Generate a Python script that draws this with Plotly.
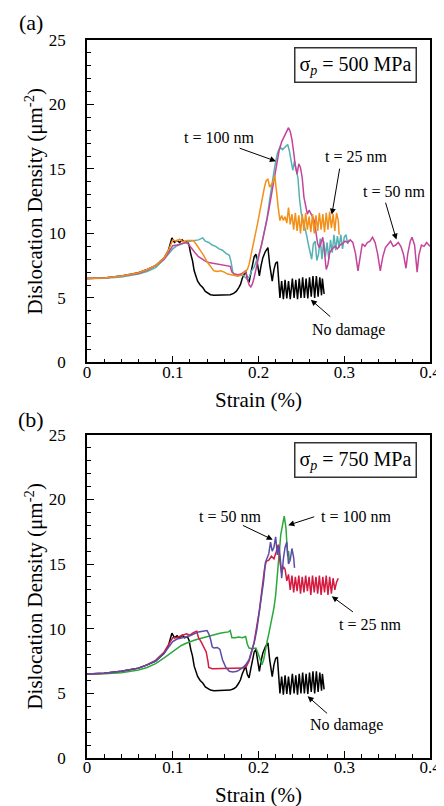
import plotly.graph_objects as go
from plotly.subplots import make_subplots

# ---------------- data ----------------
# No damage (same in both panels)
nd_x = [0, 0.02, 0.04, 0.06, 0.07, 0.08, 0.09, 0.095, 0.099, 0.102, 0.105, 0.108, 0.111, 0.114, 0.117,
        0.119, 0.121, 0.123, 0.125, 0.127, 0.129, 0.132, 0.135, 0.138, 0.140, 0.144, 0.148, 0.155, 0.162,
        0.167, 0.171, 0.174, 0.177, 0.179, 0.181, 0.183, 0.185, 0.187, 0.189, 0.191, 0.193, 0.195, 0.197,
        0.199, 0.201, 0.203, 0.205, 0.208, 0.211, 0.213, 0.216, 0.218, 0.220, 0.222, 0.2235, 0.225,
        0.227, 0.229, 0.231, 0.233, 0.235, 0.237, 0.2395, 0.2415, 0.2435, 0.2455, 0.2475, 0.2495,
        0.2515, 0.2535, 0.2555, 0.2575, 0.2595, 0.2615, 0.2635, 0.2655, 0.2675, 0.2695, 0.2715, 0.2735,
        0.2745, 0.2755, 0.2765]
nd_y = [6.5, 6.55, 6.7, 6.95, 7.2, 7.5, 8.1, 8.7, 9.65, 9.3, 9.45, 9.3, 9.5, 9.3, 9.4,
        9.1, 8.4, 7.9, 7.1, 6.7, 6.3, 6.0, 5.8, 5.5, 5.4, 5.25, 5.2, 5.22, 5.2,
        5.25, 5.35, 5.5, 5.8, 6.05, 6.5, 6.85, 7.1, 6.45, 6.2, 6.9, 7.6, 8.2, 8.4,
        7.4, 6.7, 7.5, 8.1, 8.6, 8.9, 7.6, 6.3, 7.2, 7.7, 7.8, 6.3, 5.0,
        6.3, 4.9, 6.4, 4.95, 6.3, 4.9, 6.5, 5.0, 6.4, 4.9, 6.5, 5.0,
        6.6, 5.0, 6.5, 4.95, 6.6, 5.1, 6.7, 5.0, 6.7, 5.1, 6.6, 5.2,
        6.5, 5.5, 5.3]

# Panel (a), sigma_p = 500 MPa
a25_x = [0, 0.02, 0.04, 0.06, 0.07, 0.08, 0.09, 0.095, 0.1, 0.104, 0.108, 0.112, 0.116, 0.12, 0.124,
         0.127, 0.13, 0.133, 0.136, 0.14, 0.144, 0.148, 0.152, 0.156, 0.16, 0.164, 0.168, 0.172, 0.176,
         0.18, 0.184, 0.187, 0.189, 0.191, 0.193, 0.195, 0.197, 0.199, 0.201, 0.203, 0.205, 0.207, 0.209,
         0.211, 0.213, 0.215, 0.217, 0.219, 0.221, 0.223, 0.225, 0.227, 0.229, 0.231, 0.233, 0.235, 0.237,
         0.239, 0.241, 0.243, 0.245, 0.247, 0.249, 0.251, 0.253, 0.255, 0.257, 0.259, 0.261, 0.263, 0.265,
         0.267, 0.269, 0.271, 0.273, 0.275, 0.277, 0.279, 0.281, 0.283, 0.285, 0.287, 0.289, 0.291, 0.293,
         0.294]
a25_y = [6.5, 6.55, 6.7, 6.95, 7.2, 7.5, 8.1, 8.7, 9.5, 9.4, 9.55, 9.35, 9.45, 9.45, 9.45,
         9.2, 8.9, 8.6, 8.3, 7.8, 7.4, 7.1, 7.05, 7.1, 7.0, 6.85, 6.8, 6.75, 6.7,
         6.75, 7.0, 7.2, 7.6, 8.3, 9.0, 9.5, 10.2, 10.8, 11.5, 12.3, 13.0, 13.6, 14.1,
         14.2, 13.6, 13.8, 14.0, 14.5, 13.0, 12.0, 11.0, 11.4, 11.0, 11.3, 10.8, 12.0, 10.7,
         11.5, 10.3, 11.6, 10.2, 11.4, 10.0, 11.5, 10.2, 11.6, 10.3, 11.3, 10.1, 11.5, 10.0,
         11.4, 10.2, 11.6, 10.3, 11.5, 10.1, 11.6, 10.3, 11.7, 10.4, 11.5, 10.2, 11.6, 11.0,
         9.9]

a50_x = [0, 0.02, 0.04, 0.06, 0.07, 0.08, 0.09, 0.095, 0.1, 0.105, 0.11, 0.115, 0.118, 0.122, 0.126,
         0.13, 0.134, 0.138, 0.142, 0.146, 0.15, 0.155, 0.16, 0.165, 0.167, 0.169, 0.172, 0.176, 0.18,
         0.183, 0.185, 0.187, 0.189, 0.191, 0.193, 0.195, 0.198, 0.2, 0.203, 0.206, 0.209, 0.212, 0.215,
         0.218, 0.221, 0.224, 0.227, 0.23, 0.232, 0.234, 0.235, 0.237, 0.239, 0.241, 0.243, 0.245, 0.247,
         0.249, 0.251, 0.253, 0.255, 0.257, 0.259, 0.261, 0.263, 0.265, 0.267, 0.269, 0.271, 0.273, 0.275,
         0.277, 0.279, 0.281, 0.283, 0.286, 0.289, 0.292, 0.295, 0.298, 0.301, 0.304, 0.307, 0.310, 0.313,
         0.316, 0.318, 0.321, 0.324, 0.327, 0.330, 0.333, 0.336, 0.339, 0.342, 0.345, 0.348, 0.351, 0.354,
         0.357, 0.360, 0.363, 0.366, 0.369, 0.372, 0.374, 0.377, 0.379, 0.382, 0.385, 0.387, 0.390, 0.393,
         0.396, 0.400]
a50_y = [6.5, 6.55, 6.7, 6.9, 7.15, 7.5, 8.0, 8.5, 9.05, 9.1, 9.2, 9.3, 9.2, 8.8, 8.5,
         8.2, 8.0, 7.85, 7.75, 7.7, 7.65, 7.6, 7.55, 7.5, 7.45, 7.0, 6.85, 6.8, 6.85,
         7.0, 7.1, 6.5, 6.0, 5.85, 6.1, 6.6, 7.4, 8.1, 9.0, 9.8, 10.8, 11.8, 13.0,
         14.3, 15.5, 16.4, 17.1, 17.5, 17.7, 18.0, 18.2, 17.9, 17.3, 16.3, 15.2, 14.6, 15.4,
         15.1, 14.3, 12.8, 12.0, 11.5, 11.8, 11.6, 11.3, 11.0, 9.9, 9.2, 8.9, 9.3, 9.7,
         8.5, 7.2, 7.6, 8.5, 8.8, 9.0, 8.8, 9.1, 9.2, 9.4, 9.3, 9.5, 9.3, 8.5,
         7.1, 8.0, 9.2, 9.0, 9.3, 9.4, 9.7, 9.3, 8.4, 7.1, 8.2, 8.9, 9.2, 9.4,
         9.0, 9.1, 9.3, 9.0, 8.4, 7.3, 8.4, 9.4, 9.7, 9.1, 7.0, 8.3, 9.1, 9.0,
         9.3, 9.0]

a100_x = [0, 0.02, 0.04, 0.06, 0.07, 0.08, 0.09, 0.1, 0.105, 0.11, 0.115, 0.12, 0.125, 0.13, 0.135,
          0.138, 0.142, 0.146, 0.15, 0.154, 0.158, 0.162, 0.166, 0.168, 0.170, 0.172, 0.176, 0.18, 0.183,
          0.186, 0.189, 0.192, 0.195, 0.198, 0.201, 0.204, 0.207, 0.210, 0.213, 0.216, 0.219, 0.222, 0.225,
          0.228, 0.231, 0.234, 0.236, 0.238, 0.240, 0.242, 0.244, 0.246, 0.248, 0.250, 0.252, 0.254, 0.256,
          0.258, 0.260, 0.262, 0.264, 0.266, 0.268, 0.270, 0.272, 0.274, 0.276, 0.278, 0.280, 0.282, 0.284,
          0.286, 0.288, 0.290, 0.292, 0.294, 0.296, 0.298, 0.300, 0.302, 0.304, 0.306]
a100_y = [6.5, 6.53, 6.62, 6.85, 7.05, 7.35, 8.0, 8.8, 9.05, 9.2, 9.3, 9.4, 9.45, 9.5, 9.65,
          9.4, 9.3, 9.1, 9.0, 8.8, 8.7, 8.45, 8.3, 7.8, 7.0, 6.75, 6.7, 6.85, 6.7,
          6.5, 6.6, 7.1, 7.4, 7.9, 8.5, 9.2, 10.2, 11.2, 12.6, 14.0, 15.2, 16.2, 16.7,
          16.5, 16.7, 16.9, 16.4, 15.5, 14.9, 15.6, 15.0, 14.3, 12.6, 11.5, 11.0, 10.5, 9.9,
          9.2, 8.6, 8.0, 9.2, 9.4, 7.9, 8.4, 9.6, 8.0, 9.4, 8.2, 9.3, 8.0, 9.5,
          8.5, 9.9, 8.7, 9.8, 8.9, 9.9, 8.8, 9.7, 9.9, 9.2, 9.5]

# Panel (b), sigma_p = 750 MPa
b25_x = [0, 0.02, 0.04, 0.06, 0.07, 0.08, 0.09, 0.095, 0.1, 0.104, 0.108, 0.112, 0.116, 0.12, 0.124,
         0.128, 0.13, 0.133, 0.136, 0.139, 0.141, 0.142, 0.146, 0.152, 0.158, 0.164, 0.17, 0.176, 0.182,
         0.186, 0.189, 0.192, 0.195, 0.198, 0.201, 0.204, 0.207, 0.209, 0.212, 0.215, 0.218, 0.221, 0.223,
         0.225, 0.227, 0.229, 0.231, 0.233, 0.235, 0.237, 0.239, 0.241, 0.243, 0.245, 0.247, 0.249, 0.251,
         0.253, 0.255, 0.257, 0.259, 0.261, 0.263, 0.265, 0.267, 0.269, 0.271, 0.273, 0.275, 0.277, 0.279,
         0.281, 0.283, 0.285, 0.287, 0.289, 0.291, 0.293]
b25_y = [6.5, 6.55, 6.7, 6.95, 7.2, 7.55, 8.2, 8.8, 9.3, 9.3, 9.4, 9.5, 9.6, 9.5, 9.7,
         9.8, 9.3, 9.0, 8.6, 8.2, 7.5, 7.0, 6.9, 6.9, 6.95, 6.9, 6.95, 6.9, 6.95,
         7.1, 7.5, 8.2, 9.0, 10.2, 11.4, 13.0, 14.6, 15.2, 15.3, 15.6, 15.4, 16.0, 16.5,
         15.2, 14.3, 14.8, 14.6, 13.7, 14.2, 13.0, 14.1, 12.8, 14.0, 12.9, 14.1, 12.7, 14.0,
         12.8, 14.1, 12.9, 14.0, 12.6, 14.1, 12.8, 14.0, 12.7, 14.1, 12.6, 14.0, 12.8, 14.1,
         12.6, 14.0, 12.7, 13.9, 13.0, 13.6, 13.9]

b50_x = [0, 0.02, 0.04, 0.06, 0.07, 0.08, 0.09, 0.095, 0.1, 0.105, 0.11, 0.115, 0.12, 0.125, 0.13,
         0.135, 0.14, 0.142, 0.144, 0.146, 0.148, 0.152, 0.155, 0.158, 0.162, 0.166, 0.17, 0.175, 0.18,
         0.185, 0.189, 0.192, 0.195, 0.198, 0.201, 0.204, 0.206, 0.208, 0.210, 0.212, 0.214, 0.216, 0.218,
         0.220, 0.222, 0.224, 0.226, 0.227, 0.229, 0.231, 0.233, 0.235, 0.237, 0.239, 0.241, 0.242]
b50_y = [6.5, 6.55, 6.7, 6.95, 7.2, 7.5, 8.1, 8.6, 9.0, 9.2, 9.25, 9.35, 9.45, 9.6, 9.75,
         9.8, 9.85, 9.6, 9.2, 8.6, 8.5, 8.55, 8.4, 7.6, 7.0, 6.7, 6.65, 6.7, 6.9,
         7.2, 7.6, 8.3, 8.9, 9.9, 11.2, 12.8, 13.7, 15.1, 15.5, 15.8, 16.7, 16.0, 16.3,
         17.1, 15.7, 16.4, 15.0, 13.9, 15.4, 16.3, 16.7, 15.0, 15.3, 16.2, 15.5, 14.7]

b100_x = [0, 0.02, 0.04, 0.06, 0.07, 0.08, 0.09, 0.1, 0.105, 0.11, 0.115, 0.12, 0.125, 0.13, 0.135,
          0.14, 0.145, 0.15, 0.155, 0.16, 0.165, 0.167, 0.169, 0.173, 0.177, 0.181, 0.185, 0.187, 0.189,
          0.193, 0.197, 0.2, 0.202, 0.204, 0.206, 0.208, 0.21, 0.212, 0.214, 0.216, 0.218, 0.22, 0.222,
          0.224, 0.226, 0.228, 0.230, 0.232, 0.233, 0.234, 0.235, 0.236]
b100_y = [6.5, 6.52, 6.6, 6.8, 7.0, 7.3, 7.75, 8.25, 8.5, 8.7, 8.85, 9.0, 9.1, 9.2, 9.3,
          9.4, 9.5, 9.6, 9.65, 9.7, 9.75, 9.85, 9.3, 9.3, 9.35, 9.3, 9.4, 8.8, 8.5,
          8.45, 8.5, 8.0, 7.5, 7.2, 7.6, 8.4, 9.0, 9.6, 10.2, 10.8, 11.6, 12.6, 14.2,
          16.0, 17.3, 18.0, 18.7, 17.8, 16.5, 15.6, 16.0, 15.3]

x_ticks = [0, 0.1, 0.2, 0.3, 0.4]
x_tick_text = ["0", "0.1", "0.2", "0.3", "0.4"]
y_ticks = [0, 5, 10, 15, 20, 25]
y_tick_text = ["0", "5", "10", "15", "20", "25"]

C_BLACK = "#000000"
C_ORANGE = "#F39019"
C_MAGENTA = "#C4449B"
C_CYAN = "#56B1B3"
C_RED = "#D6193F"
C_BLUE = "#5B4DA6"
C_GREEN = "#2BA83A"

FONT = "'Liberation Serif', 'Times New Roman', Times, serif"

fig = make_subplots(rows=2, cols=1, vertical_spacing=0.1008)

lw = 1.5
# panel a
fig.add_trace(go.Scatter(x=nd_x, y=nd_y, mode="lines", line=dict(color=C_BLACK, width=lw)), row=1, col=1)
fig.add_trace(go.Scatter(x=a100_x, y=a100_y, mode="lines", line=dict(color=C_CYAN, width=lw)), row=1, col=1)
fig.add_trace(go.Scatter(x=a50_x, y=a50_y, mode="lines", line=dict(color=C_MAGENTA, width=lw)), row=1, col=1)
fig.add_trace(go.Scatter(x=a25_x, y=a25_y, mode="lines", line=dict(color=C_ORANGE, width=lw)), row=1, col=1)
# panel b
fig.add_trace(go.Scatter(x=nd_x, y=nd_y, mode="lines", line=dict(color=C_BLACK, width=lw)), row=2, col=1)
fig.add_trace(go.Scatter(x=b100_x, y=b100_y, mode="lines", line=dict(color=C_GREEN, width=lw)), row=2, col=1)
fig.add_trace(go.Scatter(x=b25_x, y=b25_y, mode="lines", line=dict(color=C_RED, width=lw)), row=2, col=1)
fig.add_trace(go.Scatter(x=b50_x, y=b50_y, mode="lines", line=dict(color=C_BLUE, width=lw)), row=2, col=1)

axis_common = dict(showline=True, linecolor="black", linewidth=1.5, mirror=True,
                   ticks="inside", ticklen=7, tickwidth=1, tickcolor="black",
                   showgrid=False, zeroline=False,
                   tickfont=dict(family=FONT, size=17, color="black"))

for r in (1, 2):
    fig.update_xaxes(range=[0, 0.4], tickvals=x_ticks, ticktext=x_tick_text,
                     minor=dict(ticks="inside", dtick=0.02, ticklen=4, tickcolor="black", tickwidth=1),
                     ticklabelstandoff=-7,
                     title=dict(text="Strain (%)", font=dict(family=FONT, size=21, color="black"),
                                standoff=12 if r == 1 else 11),
                     row=r, col=1, **axis_common)
    fig.update_yaxes(range=[0, 25], tickvals=y_ticks, ticktext=y_tick_text,
                     minor=dict(ticks="inside", dtick=1, ticklen=4, tickcolor="black", tickwidth=1),
                     ticklabelstandoff=16,
                     title=dict(text="Dislocation Density (μm<sup>-2</sup>)",
                                font=dict(family=FONT, size=21, color="black"), standoff=0),
                     row=r, col=1, **axis_common)

ann_font = dict(family=FONT, size=16, color="black")
annotations = []

def label(x, y, text, xr, yr):
    annotations.append(dict(x=x, y=y, xref=xr, yref=yr, text=text, showarrow=False, font=ann_font))

def arrow(hx, hy, tx, ty, xr, yr):
    annotations.append(dict(x=hx, y=hy, ax=tx, ay=ty, xref=xr, yref=yr, axref=xr, ayref=yr,
                            text="", showarrow=True, arrowhead=2, arrowsize=1.2, arrowwidth=1,
                            arrowcolor="black", standoff=0, startstandoff=0))

# panel a annotations
label(0.1537, 17.42, "t = 100 nm", "x", "y")
arrow(0.2203, 15.6, 0.1763, 16.65, "x", "y")
label(0.3138, 15.94, "t = 25 nm", "x", "y")
arrow(0.2855, 11.46, 0.2949, 15.14, "x", "y")
label(0.3582, 13.22, "t = 50 nm", "x", "y")
arrow(0.3608, 9.52, 0.3477, 12.5, "x", "y")
label(0.3054, 2.53, "No damage", "x", "y")
arrow(0.261, 4.86, 0.2855, 3.44, "x", "y")
# panel b annotations
label(0.1669, 18.69, "t = 50 nm", "x2", "y2")
arrow(0.2166, 16.88, 0.18, 18.04, "x2", "y2")
label(0.3138, 18.69, "t = 100 nm", "x2", "y2")
arrow(0.2347, 18.0, 0.2667, 18.69, "x2", "y2")
label(0.33, 10.31, "t = 25 nm", "x2", "y2")
arrow(0.2855, 12.5, 0.3119, 11.21, "x2", "y2")
label(0.3032, 2.58, "No damage", "x2", "y2")
arrow(0.2573, 4.77, 0.2817, 3.35, "x2", "y2")

# boxes
for xr, yr, val in (("x", "y", "500"), ("x2", "y2", "750")):
    annotations.append(dict(x=0.3135, y=23.05, xref=xr, yref=yr,
                            text="σ<sub><i>p</i></sub> = " + val + " MPa", showarrow=False,
                            font=dict(family=FONT, size=20, color="black"),
                            bordercolor="#333333", borderwidth=1.5, borderpad=4, bgcolor="white"))

# panel labels
annotations.append(dict(x=-0.162, y=1.0237, xref="paper", yref="paper", text="(a)", showarrow=False,
                        xanchor="center", yanchor="middle",
                        font=dict(family=FONT, size=22, color="black")))
annotations.append(dict(x=-0.162, y=0.4708, xref="paper", yref="paper", text="(b)", showarrow=False,
                        xanchor="center", yanchor="middle",
                        font=dict(family=FONT, size=22, color="black")))

fig.update_layout(width=444, height=806, margin=dict(l=79, r=11, t=32, b=56),
                  paper_bgcolor="white", plot_bgcolor="white", showlegend=False,
                  font=dict(family=FONT),
                  annotations=annotations)
fig.update_yaxes(domain=[0.551, 1.0], row=1, col=1)
fig.update_yaxes(domain=[0.0, 0.4503], row=2, col=1)

fig.write_html("out.html")
